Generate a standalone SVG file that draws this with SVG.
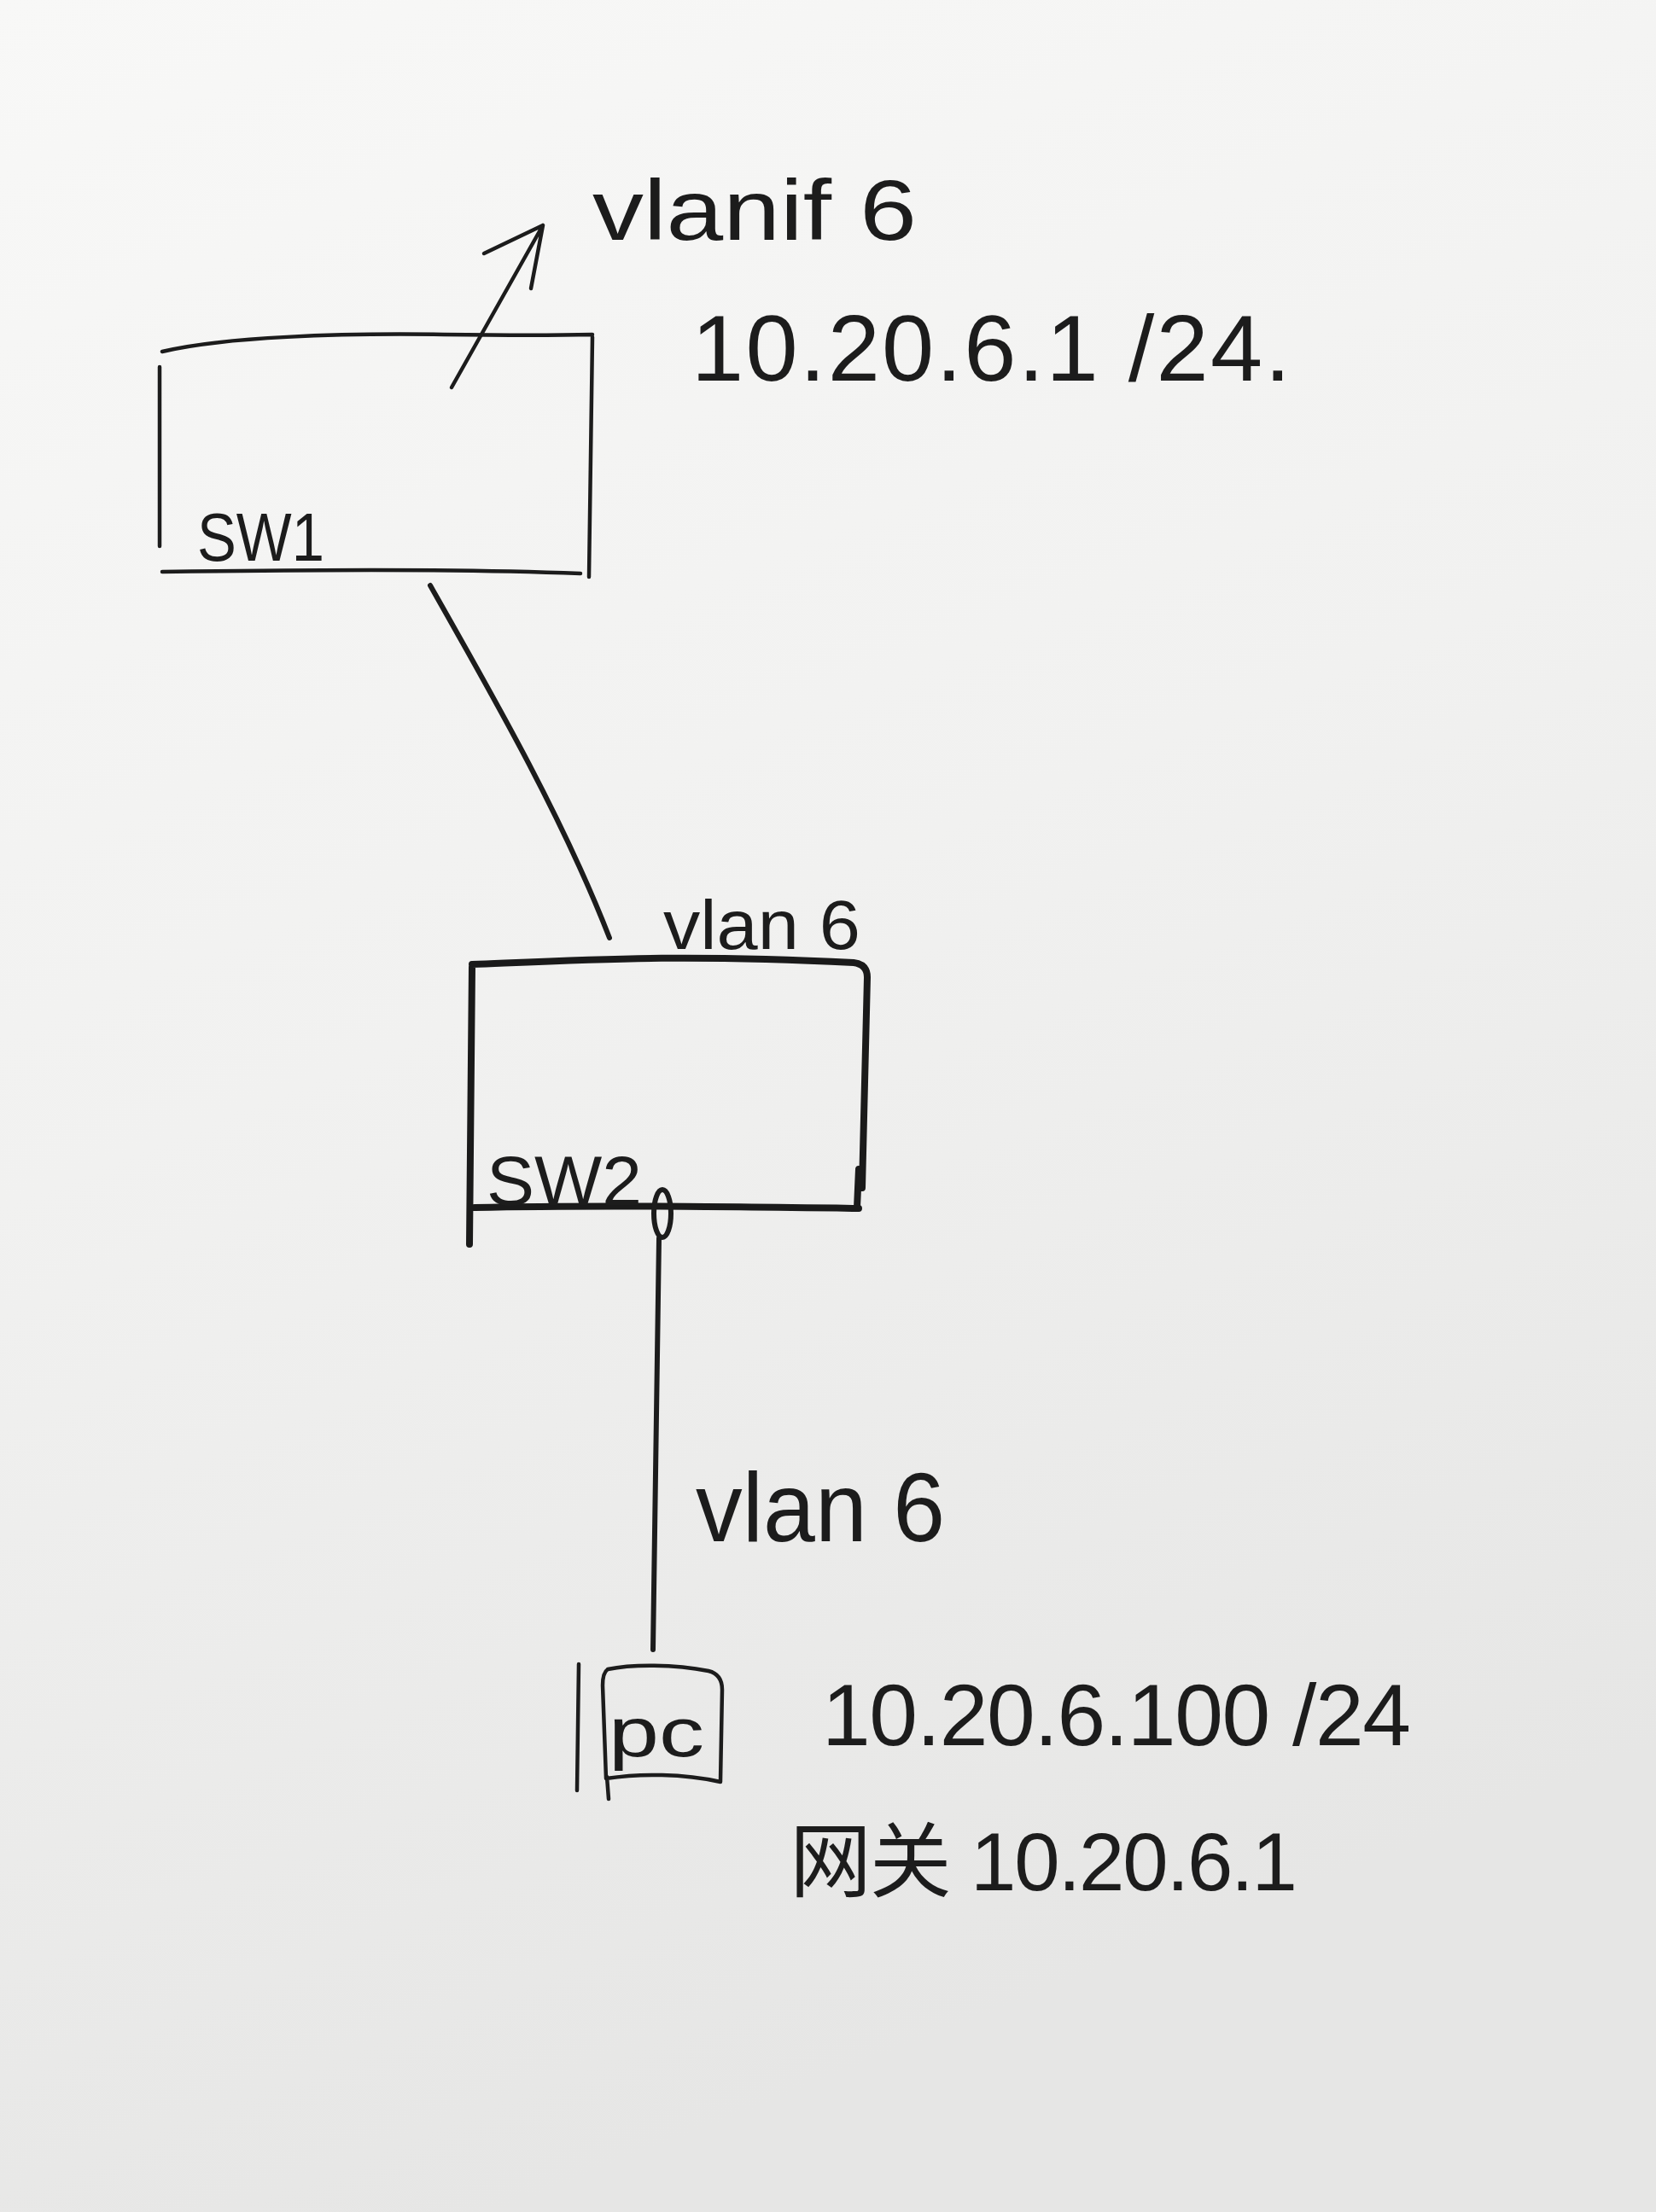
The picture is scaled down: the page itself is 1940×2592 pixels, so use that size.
<svg xmlns="http://www.w3.org/2000/svg" width="1940" height="2592" viewBox="0 0 1940 2592">
<style>
.pen{fill:none;stroke:#1a1a1a;stroke-width:8;stroke-linecap:round;stroke-linejoin:round}
.mid{fill:none;stroke:#1c1c1c;stroke-width:6;stroke-linecap:round;stroke-linejoin:round}
.thin{fill:none;stroke:#1c1c1c;stroke-width:4.5;stroke-linecap:round;stroke-linejoin:round}
.t{font-family:"Liberation Sans","Noto Sans CJK SC",sans-serif;fill:#1c1c1c;font-weight:normal}
</style>
<defs>
<linearGradient id="paper" x1="0" y1="0" x2="0.3" y2="1">
<stop offset="0" stop-color="#f8f8f7"/>
<stop offset="0.5" stop-color="#f1f1f0"/>
<stop offset="1" stop-color="#e6e6e5"/>
</linearGradient>
</defs>
<rect width="1940" height="2592" fill="url(#paper)"/>

<g id="sw1">
<path class="thin" d="M187,430 L187,640 M190,412 C260,395 400,390 520,392 C600,393 650,393 694,392 M694,395 L690,676 M190,670 C350,668 520,666 680,672"/>
<text class="t" x="231" y="657" font-size="80" textLength="149" lengthAdjust="spacingAndGlyphs">SW1</text>
</g>

<g id="sw1-label">
<text class="t" x="694" y="281" font-size="100" textLength="380" lengthAdjust="spacingAndGlyphs">vlanif 6</text>
<text class="t" x="810" y="446" font-size="110" textLength="702" lengthAdjust="spacing">10.20.6.1 /24.</text>
</g>

<g id="sw2">
<path class="pen" d="M553,1133 L550,1458 M553,1130 C700,1124 800,1118 1000,1128 Q1016,1130 1016,1145 L1010,1392 M556,1415 C700,1412 850,1414 1006,1416 M1006,1370 L1004,1415"/>
<text class="t" x="570" y="1412" font-size="82" textLength="182" lengthAdjust="spacingAndGlyphs">SW2</text>
<text class="t" x="777" y="1112" font-size="82" textLength="231" lengthAdjust="spacingAndGlyphs">vlan 6</text>
<ellipse class="mid" cx="776" cy="1422" rx="10" ry="28"/>
</g>

<g id="pc">
<path class="thin" d="M678,1950 L676,2098 M712,1956 C740,1950 790,1950 830,1958 Q846,1962 846,1980 L844,2088 C800,2078 750,2078 710,2084 L706,1975 Q706,1960 712,1956 M711,2082 L713,2108"/>
<text class="t" x="713" y="2058" font-size="82" textLength="112" lengthAdjust="spacingAndGlyphs">pc</text>
</g>

<g id="pc-label">
<text class="t" x="963" y="2045" font-size="102" textLength="690" lengthAdjust="spacing">10.20.6.100 /24</text>
<text class="t" x="925" y="2215" font-size="96" textLength="595" lengthAdjust="spacing">网关 10.20.6.1</text>
</g>

<g id="connectors">
<path class="mid" d="M504,686 C580,820 660,960 714,1099"/>
<path class="mid" d="M772,1451 L765,1933"/>
<text class="t" x="815" y="1806" font-size="115" textLength="292" lengthAdjust="spacingAndGlyphs">vlan 6</text>
<path class="thin" d="M529,454 L636,264 M567,297 L636,264 L622,338"/>
</g>
</svg>
